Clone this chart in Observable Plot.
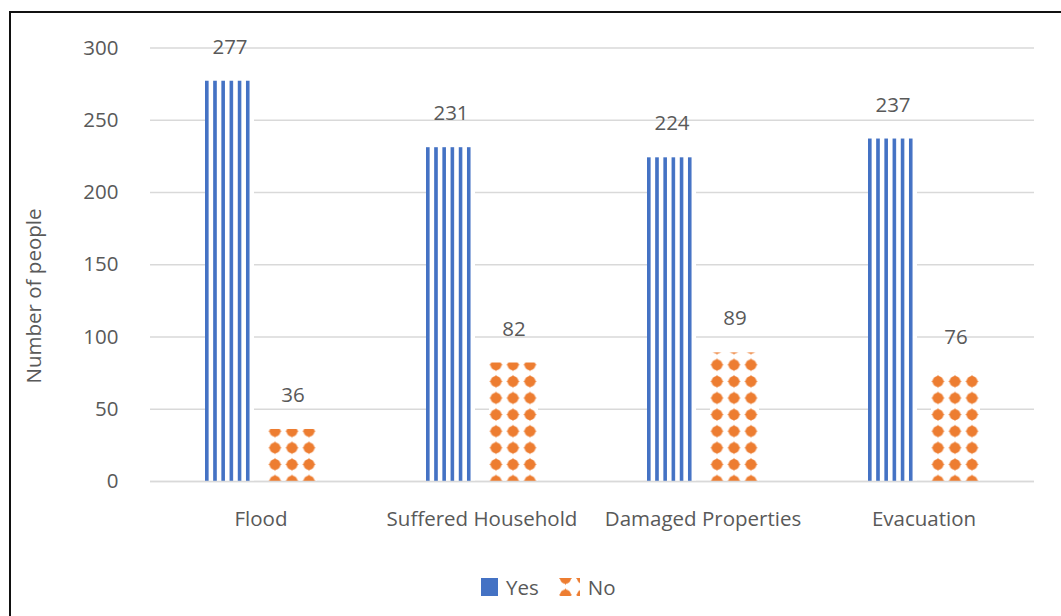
<!DOCTYPE html>
<html>
<head>
<meta charset="utf-8">
<script src="https://cdn.jsdelivr.net/npm/d3@7"></script>
<script src="https://cdn.jsdelivr.net/npm/@observablehq/plot@0.6"></script>
<style>
  html, body { margin: 0; padding: 0; background: #fff; }
  body { width: 1061px; height: 616px; position: relative; overflow: hidden;
         font-family: "Open Sans", "Noto Sans", sans-serif; color: #595959; }
  #frame { position: absolute; left: 9px; top: 11px; width: 1200px; height: 800px;
           border-left: 2px solid #111; border-top: 2px solid #111; box-sizing: border-box; }
  #chart { position: absolute; left: 0; top: 0; }
  #ylabel { position: absolute; left: 33px; top: 296px; transform: translate(-50%, -50%) rotate(-90deg);
            white-space: nowrap; font-size: 20.5px; }
  #legend { position: absolute; left: 481px; top: 576px; display: flex; align-items: center;
            font-size: 20.5px; height: 22px; }
  #legend .item { display: flex; align-items: center; }
  #legend svg { display: block; }
</style>
</head>
<body>
<div id="frame"></div>
<div id="chart"></div>
<div id="ylabel">Number of people</div>
<div id="legend"></div>
<script>
// Survey answers per question
const categories = ["Flood", "Suffered Household", "Damaged Properties", "Evacuation"];
const series = ["Yes", "No"];
const yesValues = [277, 231, 224, 237];
const noValues = [36, 82, 89, 76];
const yTicks = [0, 50, 100, 150, 200, 250, 300];

const blue = "#4472C4";
const orange = "#ED7D31";
const textColor = "#595959";
const gridColor = "#D9D9D9";
const fontSize = 20.5;

const yesRows = categories.map((c, i) => ({category: c, series: "Yes", value: yesValues[i]}));
const noRows = categories.map((c, i) => ({category: c, series: "No", value: noValues[i]}));
const rows = yesRows.concat(noRows);

const chart = Plot.plot({
  width: 1061,
  height: 545,
  marginLeft: 150,
  marginRight: 27,
  marginTop: 47.5,
  marginBottom: 64,
  style: {fontFamily: "'Open Sans', 'Noto Sans', sans-serif", fontSize: `${fontSize}px`, color: textColor, background: "transparent"},
  fx: {domain: categories, padding: 0, label: null, axis: "bottom", tickSize: 0, tickPadding: 30},
  x: {domain: series, axis: null, paddingInner: 14 / 63, paddingOuter: 0.86},
  y: {domain: [0, 300], axis: null},
  marks: [
    Plot.gridY(yTicks, {stroke: gridColor, strokeOpacity: 1, strokeWidth: 1.5}),
    Plot.axisY(yTicks, {tickSize: 0, tickPadding: 32, label: null, fill: textColor}),
    Plot.barY(yesRows, {fx: "category", x: "series", y: "value", fill: "url(#stripes-yes)"}),
    Plot.barY(noRows, {fx: "category", x: "series", y: "value", fill: "url(#dots-no)"}),
    Plot.ruleY([0], {stroke: gridColor, strokeWidth: 1.5}),
    Plot.text(rows, {fx: "category", x: "series", y: "value", text: "value", dy: -34, fill: textColor, fontSize})
  ]
});

document.getElementById("chart").appendChild(chart);

// Fill patterns, aligned to the bars within each facet
const svg = d3.select(chart);
const defs = svg.insert("defs", ":first-child");
const step = chart.scale("fx").step ?? (1061 - 150 - 27) / categories.length;
const barGroups = chart.querySelectorAll("g[aria-label='bar']");
const yesRect = barGroups[0].querySelector("rect");
const noRect = barGroups[1].querySelector("rect");
const y0 = chart.scale("y").apply(0);

const stripeW = step / 27;
const stripes = defs.append("pattern")
  .attr("id", "stripes-yes")
  .attr("patternUnits", "userSpaceOnUse")
  .attr("x", +yesRect.getAttribute("x"))
  .attr("y", 0)
  .attr("width", stripeW)
  .attr("height", 10);
stripes.append("rect").attr("width", stripeW).attr("height", 10).attr("fill", "#fff");
stripes.append("rect").attr("width", 3.6).attr("height", 10).attr("fill", blue);

const dotW = step / 13, dotH = 16.6;
const dotPath = (cx, cy) => {
  const r = 6.6, k = 4.2;
  return `M${cx},${cy - r} C${cx + 1.2},${cy - k} ${cx + k},${cy - 1.2} ${cx + r},${cy}`
       + ` C${cx + k},${cy + 1.2} ${cx + 1.2},${cy + k} ${cx},${cy + r}`
       + ` C${cx - 1.2},${cy + k} ${cx - k},${cy + 1.2} ${cx - r},${cy}`
       + ` C${cx - k},${cy - 1.2} ${cx - 1.2},${cy - k} ${cx},${cy - r}Z`;
};
const dots = defs.append("pattern")
  .attr("id", "dots-no")
  .attr("patternUnits", "userSpaceOnUse")
  .attr("x", +noRect.getAttribute("x") - 1.5)
  .attr("y", y0 - dotH / 2)
  .attr("width", dotW)
  .attr("height", dotH);
dots.append("rect").attr("width", dotW).attr("height", dotH).attr("fill", "#fff");
dots.append("circle").attr("cx", dotW / 2).attr("cy", dotH / 2).attr("r", 5.4).attr("fill", orange);
dots.append("path").attr("d", dotPath(dotW / 2, dotH / 2)).attr("fill", orange);

// Legend
const legend = d3.select("#legend");
const yesItem = legend.append("div").attr("class", "item");
yesItem.append("svg").attr("width", 17).attr("height", 18)
  .append("rect").attr("width", 17).attr("height", 18).attr("fill", blue);
yesItem.append("span").style("margin-left", "8px").text(series[0]);

const noItem = legend.append("div").attr("class", "item").style("margin-left", "20px");
const sw = noItem.append("svg").attr("width", 21).attr("height", 18);
const swDefs = sw.append("defs");
const swPat = swDefs.append("pattern")
  .attr("id", "dots-legend")
  .attr("patternUnits", "userSpaceOnUse")
  .attr("x", -2).attr("y", -8)
  .attr("width", dotW).attr("height", dotH);
swPat.append("rect").attr("width", dotW).attr("height", dotH).attr("fill", "#fff");
swPat.append("circle").attr("cx", dotW / 2).attr("cy", dotH / 2).attr("r", 5.4).attr("fill", orange);
swPat.append("path").attr("d", dotPath(dotW / 2, dotH / 2)).attr("fill", orange);
sw.append("rect").attr("width", 21).attr("height", 18).attr("fill", "url(#dots-legend)");
noItem.append("span").style("margin-left", "8px").text(series[1]);
</script>
</body>
</html>
